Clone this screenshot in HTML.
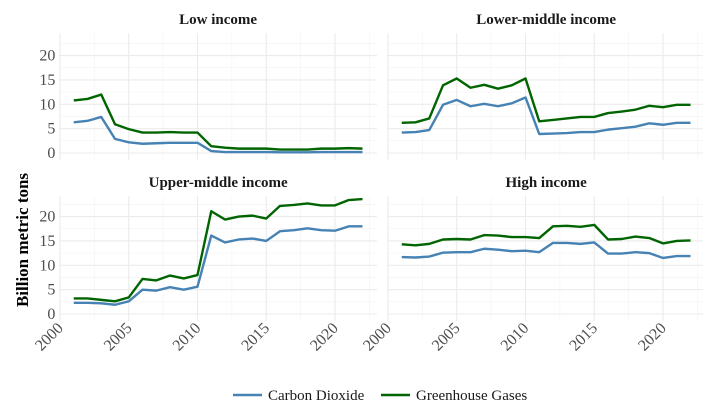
<!DOCTYPE html>
<html><head><meta charset="utf-8"><style>
body{margin:0;background:#fff;}
svg{display:block;font-family:"Liberation Serif",serif;}
</style></head><body>
<svg id="chart" width="703" height="413" xmlns="http://www.w3.org/2000/svg"></svg>
<script>
const years=[2001,2002,2003,2004,2005,2006,2007,2008,2009,2010,2011,2012,2013,2014,2015,2016,2017,2018,2019,2020,2021,2022];
const panelNames=["Low income","Lower-middle income","Upper-middle income","High income"];
const co2Low=[6.3,6.6,7.4,2.9,2.2,1.9,2.0,2.1,2.1,2.1,0.4,0.2,0.2,0.2,0.2,0.15,0.15,0.15,0.2,0.2,0.2,0.2];
const ghgLow=[10.8,11.1,12.0,5.9,4.9,4.2,4.2,4.3,4.2,4.2,1.4,1.1,0.9,0.9,0.9,0.7,0.7,0.7,0.9,0.9,1.0,0.9];
const co2LowMid=[4.2,4.3,4.7,9.9,10.9,9.6,10.1,9.6,10.2,11.4,3.9,4.0,4.1,4.3,4.3,4.8,5.1,5.4,6.1,5.8,6.2,6.2];
const ghgLowMid=[6.2,6.3,7.1,13.9,15.3,13.4,14.0,13.2,13.9,15.3,6.5,6.8,7.1,7.4,7.4,8.2,8.5,8.9,9.7,9.4,9.9,9.9];
const co2UpMid=[2.3,2.3,2.2,1.9,2.6,5.0,4.8,5.5,5.0,5.6,16.1,14.7,15.3,15.5,15.0,17.0,17.2,17.6,17.2,17.1,18.0,18.0];
const ghgUpMid=[3.2,3.2,2.9,2.6,3.4,7.2,6.9,7.9,7.3,8.0,21.1,19.4,20.0,20.2,19.6,22.2,22.4,22.7,22.3,22.3,23.4,23.6];
const co2High=[11.7,11.6,11.8,12.6,12.7,12.7,13.4,13.2,12.9,13.0,12.7,14.6,14.6,14.4,14.7,12.4,12.4,12.7,12.5,11.5,11.9,11.9];
const ghgHigh=[14.3,14.1,14.4,15.3,15.4,15.3,16.2,16.1,15.8,15.8,15.6,18.0,18.1,17.9,18.3,15.3,15.4,15.9,15.6,14.5,15.0,15.1];
const yTicks=[0,5,10,15,20];
const xTicks=[2000,2005,2010,2015,2020];
const seriesCO2=[co2Low,co2LowMid,co2UpMid,co2High];
const seriesGHG=[ghgLow,ghgLowMid,ghgUpMid,ghgHigh];

const NS="http://www.w3.org/2000/svg";
const svg=document.getElementById("chart");
function mk(tag,attrs,parent){const e=document.createElementNS(NS,tag);for(const k in attrs)e.setAttribute(k,attrs[k]);(parent||svg).appendChild(e);return e;}
const pxPerYear=13.75, pxPerUnit=4.87;
const panels=[{x0:60,yb:153,top:33,bot:160},{x0:388,yb:153,top:33,bot:160},{x0:60,yb:314,top:196,bot:321},{x0:388,yb:314,top:196,bot:321}];
panels.forEach((p,i)=>{
  const g=mk("g",{});
  
  
  const xs=y=>p.x0+(y-2000)*pxPerYear;
  const ys=v=>p.yb-v*pxPerUnit;
  const left=xs(1999.95), right=xs(2023.05);
  for(let v=2.5;v<=22.5;v+=5){mk("line",{x1:left,x2:right,y1:ys(v),y2:ys(v),stroke:"#f2f2f2","stroke-width":0.6},g);}
  for(let y=2002.5;y<=2022.5;y+=5){mk("line",{x1:xs(y),x2:xs(y),y1:p.top,y2:p.bot,stroke:"#f2f2f2","stroke-width":0.6},g);}
  yTicks.forEach(v=>{mk("line",{x1:left,x2:right,y1:ys(v),y2:ys(v),stroke:"#ebebeb","stroke-width":1.1},g);});
  xTicks.forEach(y=>{mk("line",{x1:xs(y),x2:xs(y),y1:p.top,y2:p.bot,stroke:"#ebebeb","stroke-width":1.1},g);});
  const t=mk("text",{x:(left+right)/2,y:p.top-9,"text-anchor":"middle","font-size":15,"font-weight":"bold",fill:"#1a1a1a"},g);
  t.textContent=panelNames[i];
  
  
  if(i%2===0){
    yTicks.forEach(v=>{const tt=mk("text",{x:left-4,y:ys(v)+5,"text-anchor":"end","font-size":16,fill:"#4d4d4d"},g);tt.textContent=v;
      });
  }
  if(i>=2){
    xTicks.forEach(y=>{const tt=mk("text",{x:0,y:0,"text-anchor":"end","font-size":16,fill:"#4d4d4d",transform:`translate(${xs(y)+4},${p.bot+8}) rotate(-45)`},g);tt.textContent=y;
      });
  }
  const line=(arr,col,name)=>{const pl=mk("polyline",{points:years.map((y,k)=>xs(y)+","+ys(arr[k])).join(" "),fill:"none",stroke:col,"stroke-width":2.4,"stroke-linejoin":"round"},g);
    };
  line(seriesCO2[i],"#4682b4","co2-line");
  line(seriesGHG[i],"#006400","ghg-line");
});
const yt=mk("text",{x:0,y:0,"text-anchor":"middle","font-size":17,"font-weight":"bold",fill:"#000",transform:"translate(28,240) rotate(-90)"});
yt.textContent="Billion metric tons";


const lg=mk("g",{});


[["Carbon Dioxide","#4682b4",233],["Greenhouse Gases","#006400",381]].forEach(([lab,col,x])=>{
  const e=mk("g",{},lg);
  
  
  mk("line",{x1:x,x2:x+29,y1:395,y2:395,stroke:col,"stroke-width":2.4},e);
  const tt=mk("text",{x:x+35,y:400,"font-size":15,fill:"#1a1a1a"},e);tt.textContent=lab;
});
</script>
</body></html>
